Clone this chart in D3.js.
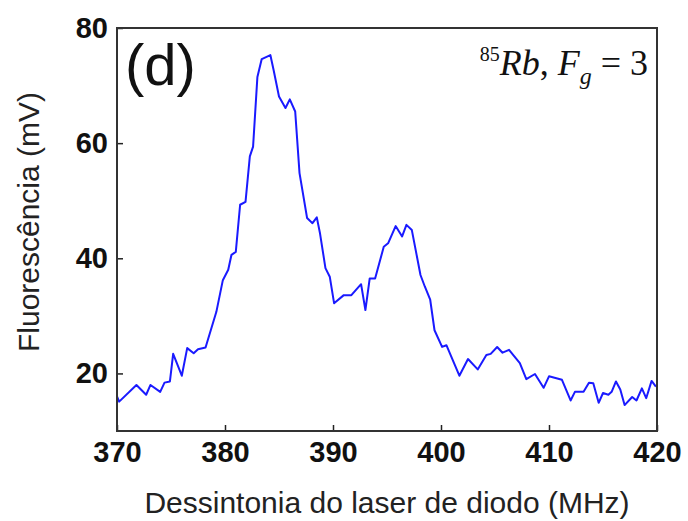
<!DOCTYPE html>
<html>
<head>
<meta charset="utf-8">
<script src="https://cdn.jsdelivr.net/npm/d3@7"></script>
<style>
  body { margin: 0; background: #fff; }
  svg { display: block; }
</style>
</head>
<body>
<svg width="688" height="521"></svg>
<script>
// detuning of the diode laser (MHz)
const detuning = [
  370.0, 370.2, 371.8, 372.7, 373.1, 374.0, 374.4, 374.9, 375.2, 376.0,
  376.5, 377.1, 377.5, 378.2, 379.2, 379.8, 380.3, 380.6, 381.0, 381.4,
  381.9, 382.3, 382.6, 383.0, 383.4, 384.2, 384.5, 385.0, 385.6, 386.0,
  386.5, 386.9, 387.6, 388.1, 388.5, 388.8, 389.3, 389.7, 390.1, 391.0,
  391.7, 392.6, 393.0, 393.4, 393.9, 394.7, 395.1, 395.8, 396.4, 396.8,
  397.3, 398.1, 398.5, 399.0, 399.4, 400.1, 400.5, 401.7, 402.5, 403.4,
  404.2, 404.6, 405.2, 405.7, 406.3, 407.3, 407.9, 408.7, 409.5, 410.0,
  410.6, 411.2, 412.0, 412.4, 413.2, 413.7, 414.1, 414.6, 415.0, 415.5,
  415.8, 416.2, 416.6, 417.0, 417.7, 418.1, 418.6, 419.0, 419.5, 419.9
];
// fluorescence signal (mV)
const fluor = [
  16.0, 15.1, 18.0, 16.3, 18.0, 16.8, 18.4, 18.6, 23.4, 19.6,
  24.4, 23.5, 24.2, 24.5, 30.7, 36.2, 38.0, 40.6, 41.1, 49.3,
  49.8, 57.7, 59.4, 71.5, 74.6, 75.3, 72.7, 68.1, 66.1, 67.6,
  65.5, 54.8, 47.0, 46.1, 47.1, 44.3, 38.3, 36.8, 32.2, 33.6,
  33.6, 35.5, 31.0, 36.5, 36.5, 42.0, 42.6, 45.6, 43.8, 45.8,
  44.9, 37.1, 35.1, 32.8, 27.5, 24.6, 24.9, 19.6, 22.5, 20.7,
  23.2, 23.4, 24.6, 23.6, 24.1, 21.8, 19.0, 19.9, 17.5, 19.5,
  19.2, 18.9, 15.3, 16.8, 16.8, 18.4, 18.3, 14.9, 16.6, 16.3,
  16.8, 18.6, 17.2, 14.5, 15.9, 15.3, 17.4, 15.7, 18.7, 17.7
];
const xTicks = [370, 380, 390, 400, 410, 420];
const yTicks = [20, 40, 60, 80];

const margin = { top: 28, right: 31, bottom: 90, left: 117 };
const width = 688 - margin.left - margin.right;
const height = 521 - margin.top - margin.bottom;

const svg = d3.select("svg");
const g = svg.append("g").attr("transform", `translate(${margin.left},${margin.top})`);

const x = d3.scaleLinear().domain([370, 420]).range([0, width]);
const y = d3.scaleLinear().domain([10, 80]).range([height, 0]);

// eixos com ticks para dentro
const xAxis = g.append("g")
  .attr("transform", `translate(0,${height})`)
  .call(d3.axisBottom(x).tickValues(xTicks).tickSizeInner(-6).tickSizeOuter(0).tickPadding(10));
const yAxis = g.append("g")
  .call(d3.axisLeft(y).tickValues(yTicks).tickSizeInner(-6).tickSizeOuter(0).tickPadding(9));

[xAxis, yAxis].forEach(ax => {
  ax.select(".domain").remove();
  ax.selectAll(".tick line").attr("stroke", "#222").attr("stroke-width", 1.5);
  ax.selectAll(".tick text")
    .attr("fill", "#111")
    .style("font-family", "'Liberation Sans', Arial, sans-serif")
    .style("font-weight", "bold")
    .style("font-size", "29px");
});

// curva
const line = d3.line()
  .x((d, i) => x(detuning[i]))
  .y(d => y(d));

g.append("path")
  .datum(fluor)
  .attr("fill", "none")
  .attr("stroke", "#1a1aff")
  .attr("stroke-width", 2)
  .attr("stroke-linejoin", "round")
  .attr("d", line);

// moldura
g.append("rect")
  .attr("width", width)
  .attr("height", height)
  .attr("fill", "none")
  .attr("stroke", "#333")
  .attr("stroke-width", 2);

// títulos dos eixos
svg.append("text")
  .attr("x", margin.left + width / 2)
  .attr("y", 513)
  .attr("text-anchor", "middle")
  .attr("fill", "#222")
  .style("font-family", "'Liberation Sans', Arial, sans-serif")
  .style("font-size", "30px")
  .text("Dessintonia do laser de diodo (MHz)");

svg.append("text")
  .attr("transform", "translate(39,222) rotate(-90)")
  .attr("text-anchor", "middle")
  .attr("fill", "#222")
  .style("font-family", "'Liberation Sans', Arial, sans-serif")
  .style("font-size", "30px")
  .text("Fluorescência (mV)");

// rótulo do painel
svg.append("text")
  .attr("x", 125)
  .attr("y", 85)
  .attr("fill", "#111")
  .style("font-family", "'Liberation Sans', Arial, sans-serif")
  .style("font-size", "58px")
  .text("(d)");

// anotação 85Rb, Fg = 3
const ann = svg.append("text")
  .attr("x", 648)
  .attr("y", 75)
  .attr("text-anchor", "end")
  .attr("fill", "#111")
  .style("font-family", "'Liberation Serif', 'Times New Roman', serif")
  .style("font-size", "36px");
ann.append("tspan").attr("dy", -14).style("font-size", "20px").text("85");
ann.append("tspan").attr("dy", 14).style("font-style", "italic").text("Rb");
ann.append("tspan").text(", ");
ann.append("tspan").style("font-style", "italic").text("F");
ann.append("tspan").attr("dy", 9).style("font-style", "italic").style("font-size", "24px").text("g");
ann.append("tspan").attr("dy", -9).text(" = 3");
</script>
</body>
</html>
